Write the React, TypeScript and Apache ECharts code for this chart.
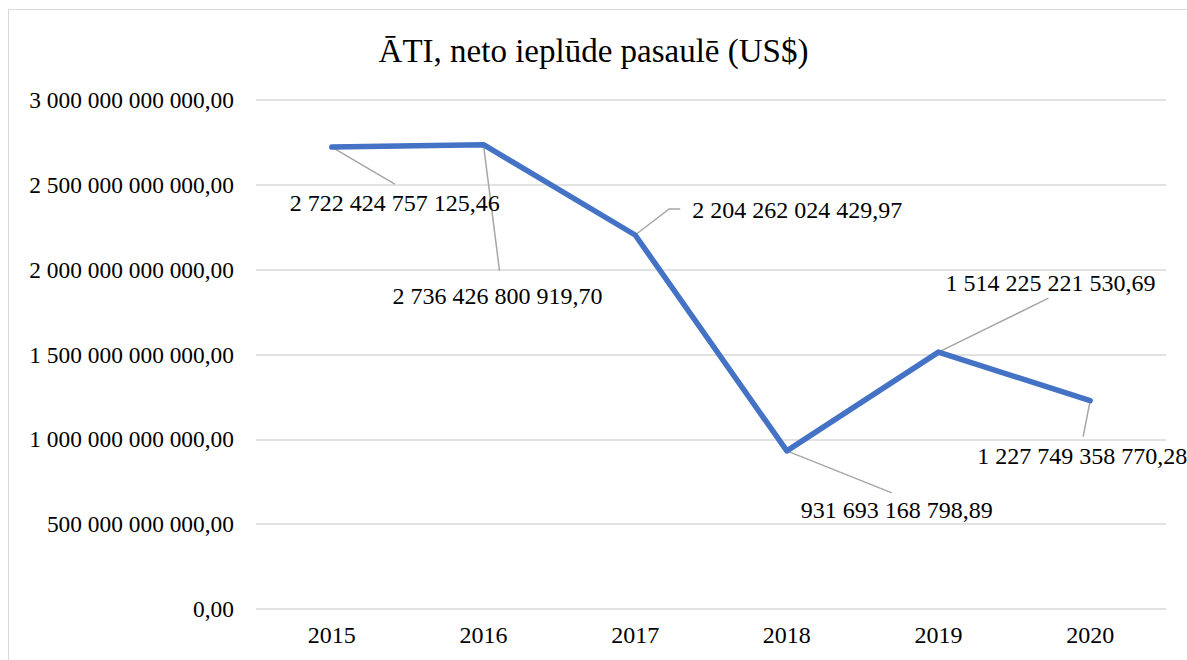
import React, { useEffect, useRef } from "react";
import * as echarts from "echarts";

const title = "ĀTI, neto ieplūde pasaulē (US$)";
const years = ["2015", "2016", "2017", "2018", "2019", "2020"];
const values = [
  2722424757125.46, 2736426800919.7, 2204262024429.97, 931693168798.89,
  1514225221530.69, 1227749358770.28,
];
const yTicks = [0, 500000000000, 1000000000000, 1500000000000, 2000000000000, 2500000000000, 3000000000000];
// label offsets (px) of each data label's centre from its point
const labelOffsets: [number, number][] = [
  [63, 56],
  [14, 151],
  [162, -25],
  [110, 59],
  [112, -69],
  [-8, 55],
];
// leader line vertex offsets (px) from each point
const leaderOffsets: [number, number][][] = [
  [[63, 37]],
  [[16, 126]],
  [[34, -26], [45, -26]],
  [[105, 42]],
  [[110, -54]],
  [[-7, 36]],
];

function fmt(v: number): string {
  const fixed = v.toFixed(2);
  const [intPart, dec] = fixed.split(".");
  const withSpaces = intPart.replace(/\B(?=(\d{3})+(?!\d))/g, " ");
  return withSpaces + "," + dec;
}

export default function App() {
  const ref = useRef<HTMLDivElement>(null);
  useEffect(() => {
    const chart = echarts.init(ref.current!, null, { renderer: "svg" });
    const font = "'Liberation Serif', 'Times New Roman', serif";
    chart.setOption({
      animation: false,
      backgroundColor: "#ffffff",
      textStyle: { fontFamily: font },
      title: {
        text: title,
        left: "center",
        top: 29,
        textStyle: { fontFamily: font, fontSize: 33, fontWeight: "normal", color: "#000" },
      },
      graphic: [
        {
          type: "rect",
          shape: { x: 8.5, y: 9.5, width: 1200, height: 700 },
          style: { fill: "none", stroke: "#d9d9d9", lineWidth: 1 },
          silent: true,
        },
      ],
      grid: { left: 256, right: 21, top: 100, bottom: 51 },
      xAxis: {
        type: "category",
        data: years,
        boundaryGap: true,
        axisLine: { show: false },
        axisTick: { show: false },
        axisLabel: { fontFamily: font, fontSize: 24, color: "#000", margin: 14 },
      },
      yAxis: {
        type: "value",
        min: yTicks[0],
        max: yTicks[yTicks.length - 1],
        interval: yTicks[1] - yTicks[0],
        axisLine: { show: false },
        axisTick: { show: false },
        splitLine: { lineStyle: { color: "#d9d9d9", width: 1.5 } },
        axisLabel: {
          fontFamily: font,
          fontSize: 23.4,
          color: "#000",
          margin: 22,
          formatter: (v: number) => fmt(v),
        },
      },
      series: [
        {
          type: "custom",
          data: values.map((v, i) => [i, v]),
          silent: true,
          z: 1,
          renderItem: (params: any, api: any) => {
            const i = params.dataIndex;
            const p = api.coord([api.value(0), api.value(1)]);
            const pts = [[p[0], p[1]], ...leaderOffsets[i].map((o) => [p[0] + o[0], p[1] + o[1]])];
            return {
              type: "polyline",
              shape: { points: pts },
              style: { stroke: "#a6a6a6", lineWidth: 1.5, fill: "none" },
            };
          },
        },
        {
          type: "line",
          data: values,
          z: 2,
          symbol: "circle",
          symbolSize: 0.1,
          showSymbol: true,
          itemStyle: { color: "#4472C4" },
          lineStyle: { color: "#4472C4", width: 5.5, cap: "round", join: "round" },
          label: {
            show: true,
            position: "inside",
            fontFamily: font,
            fontSize: 24,
            color: "#000",
            formatter: (p: any) => fmt(p.value),
          },
          labelLayout: (params: any) => ({
            dx: labelOffsets[params.dataIndex][0],
            dy: labelOffsets[params.dataIndex][1],
            hideOverlap: false,
          }),
        },
      ],
    });
    return () => chart.dispose();
  }, []);
  return (
    <div
      ref={ref}
      style={{ position: "fixed", left: 0, top: 0, width: 1187, height: 660 }}
    />
  );
}
